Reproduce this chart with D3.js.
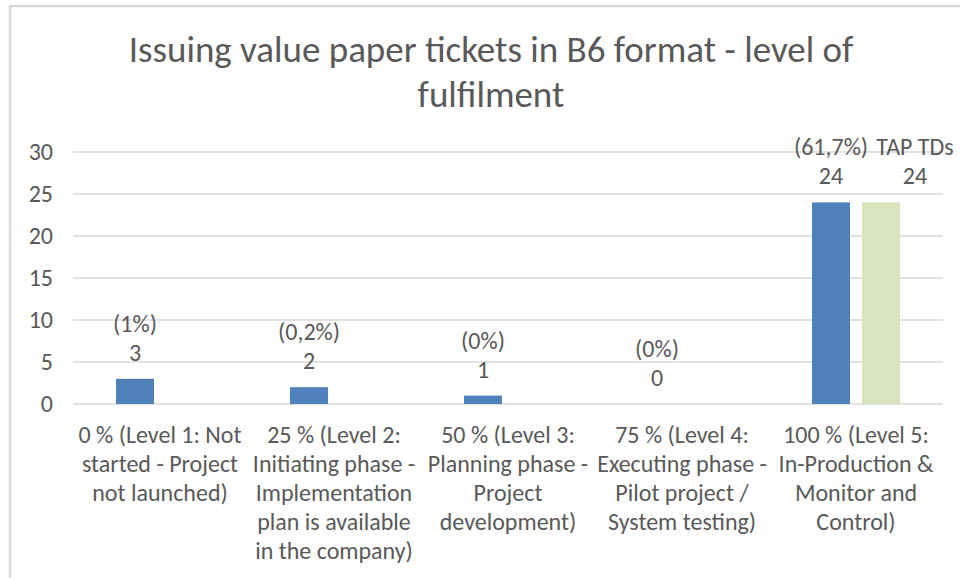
<!DOCTYPE html>
<meta charset="utf-8">
<script src="https://cdn.jsdelivr.net/npm/d3@7"></script>
<style>
body { margin: 0; background: #fff; }
text { font-family: Carlito, "Liberation Sans", Arial, sans-serif; fill: #595959; }
.grid line { stroke: #d9d9d9; stroke-width: 1.5px; }
</style>
<body>
<script>

// chart data
var categories = [
  ["0 % (Level 1: Not", "started - Project", "not launched)"],
  ["25 % (Level 2:", "Initiating phase -", "Implementation", "plan is available", "in the company)"],
  ["50 % (Level 3:", "Planning phase -", "Project", "development)"],
  ["75 % (Level 4:", "Executing phase -", "Pilot project /", "System testing)"],
  ["100 % (Level 5:", "In-Production &", "Monitor and", "Control)"]
];
var companies = [3, 2, 1, 0, 24];
var companyShare = ["(1%)", "(0,2%)", "(0%)", "(0%)", "(61,7%)"];
var tapTDs = [null, null, null, null, 24];
var tapLabel = "TAP TDs";
var yTicks = [0, 5, 10, 15, 20, 25, 30];
var titleLines = ["Issuing value paper tickets in B6 format - level of", "fulfilment"];

var width = 960,
    height = 578,
    fs = "24px";

var svg = d3.select("body").append("svg")
    .attr("width", width)
    .attr("height", height);

// chart frame (only top/left edges visible in the screenshot)
svg.append("rect")
    .attr("x", 10).attr("y", 6)
    .attr("width", 970).attr("height", 600)
    .attr("fill", "#fff")
    .attr("stroke", "#d9d9d9")
    .attr("stroke-width", 2.5);

var plot = {left: 73, right: 943, top: 152, bottom: 404};

var x = d3.scaleBand()
    .domain(d3.range(categories.length))
    .range([plot.left, plot.right])
    .paddingInner(0.494)
    .paddingOuter(0.247);

var x1 = d3.scaleBand()
    .domain([0, 1])
    .range([0, x.bandwidth()])
    .paddingInner(0.24);

var y = d3.scaleLinear()
    .domain([0, 30])
    .range([plot.bottom, plot.top]);

// title
svg.append("g").selectAll("text")
    .data(titleLines)
    .enter().append("text")
    .attr("x", 491)
    .attr("y", function(d, i) { return 62 + i * 45; })
    .attr("text-anchor", "middle")
    .attr("font-size", "37px")
    .text(function(d) { return d; });

// gridlines
svg.append("g")
    .attr("class", "grid")
    .selectAll("line")
    .data(yTicks)
    .enter().append("line")
    .attr("x1", plot.left)
    .attr("x2", plot.right)
    .attr("y1", function(d) { return y(d); })
    .attr("y2", function(d) { return y(d); });

// y axis labels
var yAxis = svg.append("g")
    .attr("transform", "translate(" + (plot.left - 20) + ",0)")
    .call(d3.axisLeft(y).tickValues(yTicks).tickSize(0).tickPadding(0));
yAxis.select(".domain").remove();
yAxis.selectAll("text")
    .attr("font-size", fs)
    .attr("font-family", "Carlito, Liberation Sans, Arial, sans-serif")
    .attr("fill", "#595959");

// bars: companies
svg.append("g").selectAll("rect")
    .data(companies)
    .enter().append("rect")
    .attr("x", function(d, i) { return x(i) + x1(0); })
    .attr("y", function(d) { return y(d); })
    .attr("width", x1.bandwidth())
    .attr("height", function(d) { return y(0) - y(d); })
    .attr("fill", "#4f81bd");

// bars: TAP TDs
var tap = tapTDs.map(function(v, i) { return {i: i, v: v}; })
    .filter(function(d) { return d.v != null; });

svg.append("g").selectAll("rect")
    .data(tap)
    .enter().append("rect")
    .attr("x", function(d) { return x(d.i) + x1(1); })
    .attr("y", function(d) { return y(d.v); })
    .attr("width", x1.bandwidth())
    .attr("height", function(d) { return y(0) - y(d.v); })
    .attr("fill", "#d7e4bd");

// data labels for companies
var lab = svg.append("g").selectAll("g")
    .data(companies)
    .enter().append("g")
    .attr("transform", function(d, i) {
        return "translate(" + (x(i) + x1(0) + x1.bandwidth() / 2) + "," + (y(d) - 18) + ")";
    });
lab.append("text")
    .attr("text-anchor", "middle")
    .attr("font-size", fs)
    .text(function(d) { return d; });
lab.append("text")
    .attr("text-anchor", "middle")
    .attr("font-size", fs)
    .attr("y", -29)
    .text(function(d, i) { return companyShare[i]; });

// data labels for TAP TDs (moved right of the bar in the original)
var lab2 = svg.append("g").selectAll("g")
    .data(tap)
    .enter().append("g")
    .attr("transform", function(d) {
        return "translate(" + (x(d.i) + x1(1) + x1.bandwidth() / 2 + 34) + "," + (y(d.v) - 18) + ")";
    });
lab2.append("text")
    .attr("text-anchor", "middle")
    .attr("font-size", fs)
    .text(function(d) { return d.v; });
lab2.append("text")
    .attr("text-anchor", "middle")
    .attr("font-size", fs)
    .attr("y", -29)
    .text(tapLabel);

// category labels
var cat = svg.append("g").selectAll("text")
    .data(categories)
    .enter().append("text")
    .attr("text-anchor", "middle")
    .attr("font-size", fs)
    .attr("transform", function(d, i) {
        return "translate(" + (x(i) + x.bandwidth() / 2) + ",0)";
    });
cat.selectAll("tspan")
    .data(function(d) { return d; })
    .enter().append("tspan")
    .attr("x", 0)
    .attr("y", function(d, j) { return 443 + j * 29; })
    .text(function(d) { return d; });

</script>
</body>
